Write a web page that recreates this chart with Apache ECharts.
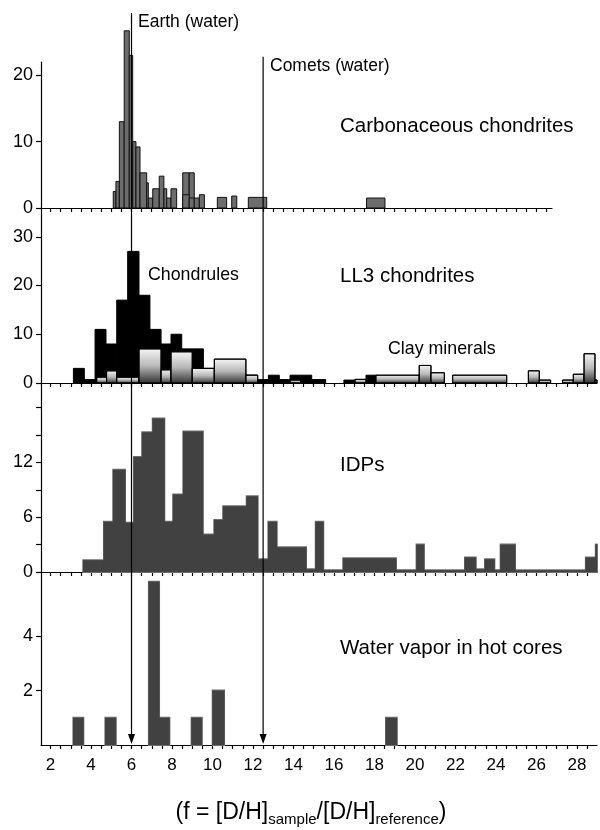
<!DOCTYPE html>
<html>
<head>
<meta charset="utf-8">
<script src="https://cdn.jsdelivr.net/npm/echarts@6.0.0/dist/echarts.min.js"></script>
<style>
html,body{margin:0;padding:0;background:#fff;}
#chart{width:600px;height:830px;}
</style>
</head>
<body>
<div id="chart"></div>
<script>
// ---- data: each bin is [from f, to f, count] ----
const carbonaceous = [[5.10,5.23,2.5],[5.23,5.40,4],[5.40,5.64,13],[5.64,5.89,26.7],[5.89,6.06,23],[6.06,6.22,10],[6.22,6.42,9.2],[6.42,6.75,5.3],[6.75,6.83,3.8],[6.83,7.05,1.5],[7.05,7.37,2.9],[7.37,7.60,4.8],[7.60,7.74,2.9],[7.74,7.95,1.5],[7.95,8.23,2.9],[8.53,8.85,5.3],[8.85,9.10,5.3],[8.53,8.85,2.0],[8.85,9.10,1.5],[9.10,9.35,1.5],[9.35,9.60,2.0],[10.24,10.70,1.6],[10.95,11.20,1.8],[11.77,12.68,1.6],[17.61,18.52,1.5]];
const chondrules = [[3.13,3.67,3],[3.67,4.20,0.7],[4.20,4.74,11],[4.74,5.27,8],[5.27,5.81,17],[5.81,6.37,27],[6.37,6.91,18],[6.91,7.46,11],[7.46,7.95,8],[7.95,8.48,10],[8.48,9.00,7],[9.00,9.55,7],[9.55,10.09,3],[10.09,10.62,3],[10.62,11.16,3],[11.16,11.65,2],[11.65,12.23,1.6],[12.23,12.76,0.7],[12.76,13.30,1.6],[13.30,13.83,0.7],[13.83,14.90,1.6],[14.90,15.59,0.7],[16.49,17.04,0.6],[17.58,18.07,1.6]];
const clayMinerals = [[4.28,4.77,1.2],[4.77,5.27,2.5],[5.27,6.37,1.2],[6.37,7.46,7],[7.46,7.95,2.7],[7.95,9.00,6.4],[9.00,10.09,3],[10.09,11.65,4.9],[11.65,12.23,1.6],[13.83,14.36,0.6],[17.04,17.58,0.75],[18.07,20.21,1.6],[20.21,20.79,3.6],[20.79,21.45,2.1],[21.86,24.53,1.6],[25.60,26.14,2.5],[26.14,26.70,0.6],[27.29,27.82,0.6],[27.82,28.35,1.8],[28.35,28.89,6],[28.89,28.99,0.6]];
const idps = [[3.62,4.64,1.3],[4.64,5.10,5.5],[5.10,5.68,11.2],[5.68,6.12,5.4],[6.12,6.53,12.6],[6.53,7.05,15.3],[7.05,7.62,16.8],[7.62,8.06,5.5],[8.06,8.56,8.5],[8.56,9.52,15.4],[9.52,10.09,4.1],[10.09,10.53,5.7],[10.53,11.69,7.2],[11.69,12.23,8.3],[12.23,12.76,1.4],[12.76,13.17,5.5],[13.17,14.62,2.7],[14.62,15.10,0.3],[15.10,15.47,5.5],[15.47,16.46,0.2],[16.46,19.06,1.5],[19.06,20.08,0.2],[20.08,20.44,3.0],[20.44,22.47,0.2],[22.47,23.00,1.6],[23.00,23.46,0.3],[23.46,23.92,1.4],[23.92,24.23,0.2],[24.23,24.94,3.0],[24.94,28.44,0.2],[28.44,28.93,1.6],[28.93,28.99,3.0]];
const hotCoreVapor = [[3.13,3.62,1],[4.71,5.22,1],[6.86,7.36,6],[7.36,7.87,1],[8.97,9.47,1],[10.01,10.57,2],[18.57,19.10,1]];

const xTickLabels = [2,4,6,8,10,12,14,16,18,20,22,24,26,28];
const yLabels1 = [0,10,20];
const yLabels2 = [0,10,20,30];
const yLabels3 = [0,6,12];
const yTicks3 = [0,3,6,9,12,15,18];
const yLabels4 = [2,4];

const referenceLines = [
  {label:'Earth (water)', f:6, top:29.4},
  {label:'Comets (water)', f:12.5, top:22.8}
];

// ---- layout ----
const FONT = '"Liberation Sans", Arial, Helvetica, sans-serif';
const X_MIN = 1.53, X_MAX = 28.99, X_MAX_TOP = 26.77;
const minorTicks = [];
for (let v = 2; v <= 28.75; v += 0.5) minorTicks.push(v);

const chart = echarts.init(document.getElementById('chart'), null, {renderer:'canvas'});

function rectRender(style, pad) {
  const p = pad || 0;
  return function (params, api) {
    const a = api.coord([api.value(0), api.value(2)]);
    const b = api.coord([api.value(1), 0]);
    const cs = params.coordSys;
    const r = echarts.graphic.clipRectByRect(
      {x:a[0] - p, y:a[1], width:b[0]-a[0] + 2 * p, height:b[1]-a[1]},
      {x:cs.x, y:0, width:cs.width, height:cs.y + cs.height + 1});
    if (!r) return null;
    return {type:'rect', shape:r, style:style};
  };
}

const axisLine = {show:true, onZero:false, lineStyle:{color:'#000', width:1.2}};

function xAxisCfg(i, max, withLabels) {
  return {
    type:'value', gridIndex:i, min:X_MIN, max:max,
    axisLine:axisLine,
    axisTick:{show:true, inside:false, length:4, customValues:minorTicks.filter(v => v <= max), lineStyle:{color:'#000', width:1.2}},
    axisLabel:withLabels ? {show:true, customValues:xTickLabels, fontSize:17, fontFamily:FONT, color:'#000', margin:12} : {show:false},
    splitLine:{show:false}
  };
}
function yAxisCfg(i, max, labels, ticks) {
  return {
    type:'value', gridIndex:i, min:0, max:max,
    axisLine:axisLine,
    axisTick:{show:true, inside:false, length:5, customValues:ticks || labels, lineStyle:{color:'#000', width:1.2}},
    axisLabel:{show:true, customValues:labels, fontSize:18, fontFamily:FONT, color:'#000', margin:8},
    splitLine:{show:false}
  };
}

const clayGradient = new echarts.graphic.LinearGradient(0, 0, 0, 1, [
  {offset:0, color:'#f6f6f6'}, {offset:0.5, color:'#b8b8b8'}, {offset:1, color:'#303030'}
]);

const option = {
  animation:false,
  backgroundColor:'#fff',
  grid:[
    {left:41, top:62, width:511, height:146},
    {left:41, top:208, width:556, height:175},
    {left:41, top:383, width:556, height:189},
    {left:41, top:572, width:556, height:173}
  ],
  xAxis:[
    xAxisCfg(0, X_MAX_TOP, false),
    xAxisCfg(1, X_MAX, false),
    xAxisCfg(2, X_MAX, false),
    xAxisCfg(3, X_MAX, true)
  ],
  yAxis:[
    yAxisCfg(0, 22.0, yLabels1),
    yAxisCfg(1, 35.9, yLabels2),
    yAxisCfg(2, 20.7, yLabels3, yTicks3),
    yAxisCfg(3, 6.36, yLabels4)
  ],
  series:[
    {type:'custom', name:'Carbonaceous chondrites', xAxisIndex:0, yAxisIndex:0, data:carbonaceous,
     renderItem:rectRender({fill:'#6d6d6d', stroke:'#111', lineWidth:1}), z:2},
    {type:'custom', name:'Chondrules', xAxisIndex:1, yAxisIndex:1, data:chondrules,
     renderItem:rectRender({fill:'#000', stroke:'#000', lineWidth:1}), z:2},
    {type:'custom', name:'Clay minerals', xAxisIndex:1, yAxisIndex:1, data:clayMinerals,
     renderItem:rectRender({fill:clayGradient, stroke:'#000', lineWidth:1}), z:3},
    // IDPs: outline pass then fill pass, giving a step silhouette
    {type:'custom', name:'IDPs', xAxisIndex:2, yAxisIndex:2, data:idps,
     renderItem:rectRender({fill:'#414141', stroke:'#6e6e6e', lineWidth:2}), z:2},
    {type:'custom', name:'IDPs fill', xAxisIndex:2, yAxisIndex:2, data:idps,
     renderItem:rectRender({fill:'#414141', lineWidth:0}, 0.4), z:3},
    {type:'custom', name:'Water vapor in hot cores', xAxisIndex:3, yAxisIndex:3, data:hotCoreVapor,
     renderItem:rectRender({fill:'#414141', stroke:'#6e6e6e', lineWidth:2}), z:2},
    {type:'custom', name:'Water vapor fill', xAxisIndex:3, yAxisIndex:3, data:hotCoreVapor,
     renderItem:rectRender({fill:'#414141', lineWidth:0}, 0.4), z:3}
  ]
};
chart.setOption(option);

// ---- reference lines with arrows, and annotation text ----
const graphics = [];
const yBottom = chart.convertToPixel({yAxisIndex:3}, 0);
referenceLines.forEach(function (r) {
  const x = chart.convertToPixel({xAxisIndex:3}, r.f);
  const yTop = chart.convertToPixel({yAxisIndex:0}, r.top);
  graphics.push({type:'line', z:100, shape:{x1:x, y1:yTop, x2:x, y2:yBottom - 6}, style:{stroke:'#000', lineWidth:1.2}});
  graphics.push({type:'polygon', z:100, shape:{points:[[x - 3.5, yBottom - 11], [x + 3.5, yBottom - 11], [x, yBottom - 1]]}, style:{fill:'#000'}});
});
function txt(text, x, y, size) {
  return {type:'text', z:101, style:{text:text, x:x, y:y, font:size + 'px ' + FONT, fill:'#000', verticalAlign:'middle', align:'left'}};
}
graphics.push(txt(referenceLines[0].label, 138, 22, 17.5));
graphics.push(txt(referenceLines[1].label, 270, 66, 17.5));
graphics.push(txt('Carbonaceous chondrites', 340, 126, 20.5));
graphics.push(txt('LL3 chondrites', 340, 276, 20.5));
graphics.push(txt('Chondrules', 148, 275, 17.8));
graphics.push(txt('Clay minerals', 388, 349, 17.8));
graphics.push(txt('IDPs', 340, 465, 20.5));
graphics.push(txt('Water vapor in hot cores', 340, 648, 20.5));
graphics.push({type:'text', z:101, style:{
  text:'{m|(f = [D/H]}{s|sample}{m|/[D/H]}{s|reference}{m|)}',
  x:311, y:813, align:'center', verticalAlign:'middle',
  rich:{
    m:{font:'23px ' + FONT, fill:'#000', lineHeight:28},
    s:{font:'15px ' + FONT, fill:'#000', lineHeight:10, verticalAlign:'bottom'}
  }
}});
chart.setOption({graphic:graphics});
</script>
</body>
</html>
